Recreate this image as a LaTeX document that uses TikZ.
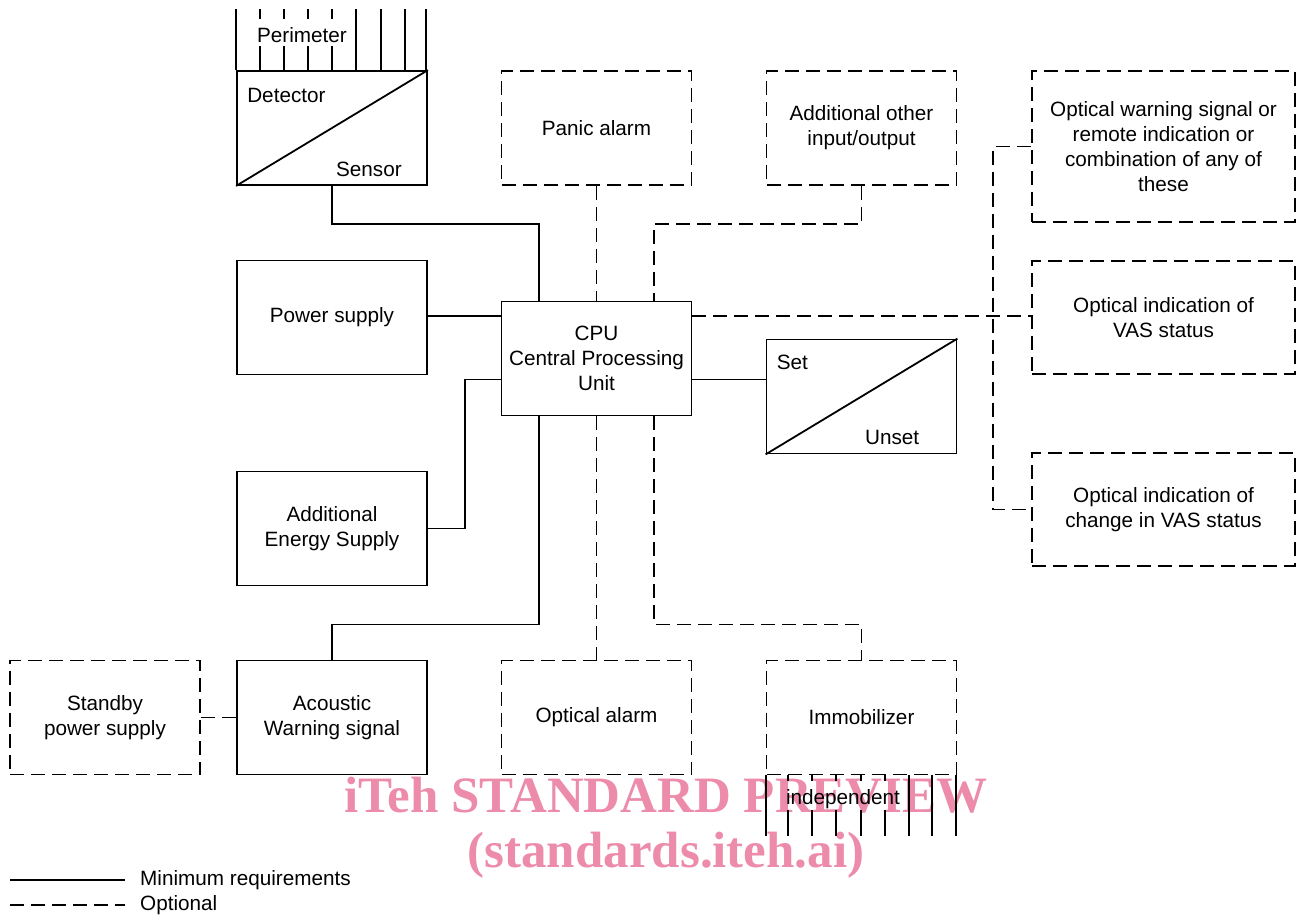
\documentclass[tikz,border=0pt]{standalone}
\usepackage{fontspec}
\setmainfont{Liberation Sans}
\newfontfamily\wmfont{Liberation Serif}
\usetikzlibrary{calc}
\definecolor{wmpink}{RGB}{236,140,170}
\tikzset{
  base/.style={line width=1.8pt},
  opt/.style={base, dash pattern=on 14pt off 7pt},
  box/.style={base, rectangle, draw, minimum width=190pt, minimum height=114pt, inner sep=0pt, align=center, font=\fontsize{20.7}{25}\selectfont},
  obox/.style={box, opt},
  wide/.style={minimum width=263pt},
  lbl/.style={font=\fontsize{20.7}{25}\selectfont, inner sep=0pt},
  wm/.style={font=\wmfont\bfseries\fontsize{51}{55}\selectfont, text=wmpink, inner sep=0pt}
}
\begin{document}
\begin{tikzpicture}[x=1pt,y=-1pt]
\useasboundingbox (0,0) rectangle (1296,918);
% watermark (behind)
\node[wm] (wm1) at (666,795) {iTeh STANDARD PREVIEW};
\node[wm] (wm2) at (666,855) {(standards.iteh.ai)};

% boxes
\node[box] (det) at (332,128) {};
\node[obox] (panic) at (596.5,128) {Panic alarm};
\node[obox] (addio) at (861.5,128) {Additional other\\input/output};
\node[obox, wide, minimum height=151pt] (owarn) at (1163.5,146.5) {Optical warning signal or\\remote indication or\\combination of any of\\these};
\node[box] (power) at (332,317.5) {Power supply};
\node[box] (cpu) at (596.5,358.5) {CPU\\Central Processing\\Unit};
\node[obox, wide, minimum height=113pt] (ovas) at (1163.5,317.5) {Optical indication of\\VAS status};
\node[box] (setu) at (861.5,396.5) {};
\node[box] (aes) at (332,528.5) {Additional\\Energy Supply};
\node[obox, wide, minimum height=113pt] (ochg) at (1163.5,509.5) {Optical indication of\\change in VAS status};
\node[obox] (standby) at (105,717.5) {Standby\\power supply};
\node[box] (acou) at (332,717.5) {Acoustic\\Warning signal};
\node[obox] (oalarm) at (596.5,717.5) {Optical alarm};
\node[obox] (immo) at (861.5,717.5) {Immobilizer};

% detector / sensor
\draw[base] (det.south west) -- (det.north east);
\node[lbl, anchor=west] (detl) at ($(det.north west)+(11,25)$) {Detector};
\node[lbl, anchor=east] (senl) at ($(det.south east)+(-26,-17)$) {Sensor};
% perimeter ticks
\foreach \dx in {0,120,145,169,190} {
  \draw[base] ($(det.north west)+(\dx,0)$) -- ($(det.north west)+(\dx,-61)$);
}
\foreach \dx in {24,48,72,96} {
  \draw[base] ($(det.north west)+(\dx,0)$) -- ($(det.north west)+(\dx,-24)$);
  \draw[base] ($(det.north west)+(\dx,-51)$) -- ($(det.north west)+(\dx,-61)$);
}
\node[lbl] (perl) at (302,35) {Perimeter};

% set / unset
\draw[base] (setu.south west) -- (setu.north east);
\node[lbl, anchor=west] (setl) at ($(setu.north west)+(11,24)$) {Set};
\node[lbl, anchor=east] (unsl) at ($(setu.south east)+(-38,-17)$) {Unset};

% immobilizer independent ticks
\foreach \dx in {0,143,166,190} {
  \draw[base] ($(immo.south west)+(\dx,0)$) -- ($(immo.south west)+(\dx,61)$);
}
\foreach \dx in {22,46,70,95,119} {
  \draw[base] ($(immo.south west)+(\dx,0)$) -- ($(immo.south west)+(\dx,6)$);
  \draw[base] ($(immo.south west)+(\dx,35)$) -- ($(immo.south west)+(\dx,61)$);
}
\node[lbl] (indl) at (843,799) {independent};

% CPU anchor points
\coordinate (cn1) at ($(cpu.north west)!0.2!(cpu.north east)$);
\coordinate (cn3) at ($(cpu.north west)!0.8!(cpu.north east)$);
\coordinate (cs1) at ($(cpu.south west)!0.2!(cpu.south east)$);
\coordinate (cs3) at ($(cpu.south west)!0.8!(cpu.south east)$);
\coordinate (ce1) at ($(cpu.north east)+(0,15)$);
\coordinate (ce2) at ($(cpu.south east)+(0,-37)$);
\coordinate (cw1) at ($(cpu.north west)+(0,15)$);
\coordinate (cw2) at ($(cpu.south west)+(0,-37)$);

% connectors
\draw[base] (det.south) -- ++(0,38) -| (cn1);
\draw[opt] (panic.south) -- (cpu.north);
\draw[opt] (addio.south) -- ++(0,38) -| (cn3);
\draw[base] (power.east |- cw1) -- (cw1);
\draw[opt] (ce1) -- (ce1 -| ovas.west);
\draw[opt] (owarn.west) -- ++(-38,0) |- (ochg.west);
\draw[base] (ce2) -- (ce2 -| setu.west);
\draw[base] (aes.east) -- ++(37,0) |- (cw2);
\draw[base] (cs1) -- ++(0,208) -| (acou.north);
\draw[opt] (cpu.south) -- (oalarm.north);
\draw[opt] (cs3) -- ++(0,208) -| (immo.north);
\draw[opt] (standby.east) -- (acou.west);

% legend
\coordinate (l1a) at (10,880);
\coordinate (l1b) at (125,880);
\coordinate (l2a) at (10,905);
\coordinate (l2b) at (125,905);
\draw[base] (l1a) -- (l1b);
\draw[opt] (l2a) -- (l2b);
\node[lbl, anchor=west] (leg1) at (140,880) {Minimum requirements};
\node[lbl, anchor=west] (leg2) at (140,905) {Optional};
\end{tikzpicture}
\end{document}
